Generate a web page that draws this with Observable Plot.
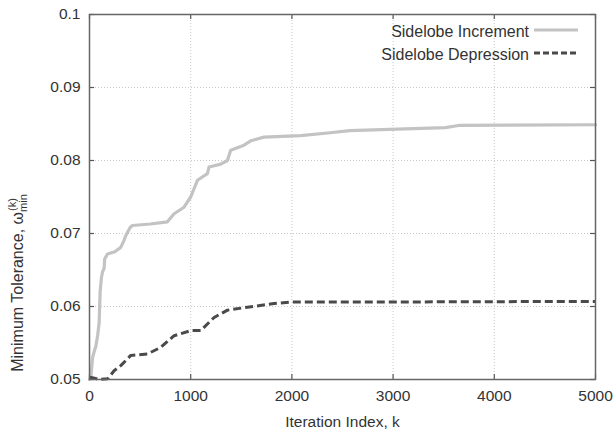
<!DOCTYPE html>
<html><head><meta charset="utf-8">
<script src="https://cdn.jsdelivr.net/npm/d3@7"></script>
<script src="https://cdn.jsdelivr.net/npm/@observablehq/plot@0.6"></script>
<style>body{margin:0;background:#fff} #chart svg{display:block}</style>
</head><body><div id="chart"></div>
<script>
// Data
const incX = [0, 15, 30, 50, 62, 80, 95, 105, 118, 130, 144, 150, 178, 250, 309, 339, 358, 400, 424, 600, 770, 836, 934, 1000, 1067, 1165, 1181, 1297, 1363, 1395, 1527, 1593, 1724, 2087, 2378, 2570, 3518, 3647, 5000];
const incY = [0.0500, 0.0505, 0.0530, 0.0540, 0.0545, 0.0560, 0.0577, 0.0620, 0.0640, 0.0648, 0.0652, 0.0665, 0.0672, 0.0675, 0.0681, 0.0690, 0.0697, 0.0708, 0.0711, 0.0713, 0.0716, 0.0727, 0.0736, 0.0750, 0.0773, 0.0782, 0.0791, 0.0795, 0.0800, 0.0814, 0.0821, 0.0827, 0.0832, 0.0834, 0.0838, 0.0841, 0.0845, 0.0848, 0.0849];
const depX = [0, 40, 100, 180, 243, 309, 408, 573, 704, 836, 1000, 1099, 1231, 1363, 1560, 1823, 1988, 2481, 5000];
const depY = [0.0503, 0.0502, 0.0500, 0.0501, 0.0512, 0.0519, 0.0533, 0.0535, 0.0544, 0.0560, 0.0567, 0.0567, 0.0585, 0.0595, 0.0599, 0.0604, 0.0606, 0.0606, 0.0607];
const xTicks = [0, 1000, 2000, 3000, 4000, 5000];
const xTickLabels = ["0", "1000", "2000", "3000", "4000", "5000"];
const yTicks = [0.05, 0.06, 0.07, 0.08, 0.09, 0.1];
const yTickLabels = ["0.05", "0.06", "0.07", "0.08", "0.09", "0.1"];
const seriesNames = ["Sidelobe Increment", "Sidelobe Depression"];
const xLabel = "Iteration Index, k";
const yLabelMain = "Minimum Tolerance, ω";
const yLabelSub = "min";
const yLabelSup = "(k)";

const W = 615, H = 432, mL = 89, mR = 20, mT = 14, mB = 53;
const innerW = W - mL - mR, innerH = H - mT - mB;
const FONT = "'Liberation Sans', Arial, Helvetica, sans-serif";
const incColor = "#c3c3c3", depColor = "#4a4a4a";

const inc = incX.map((x, i) => ({x, y: incY[i]}));
const dep = depX.map((x, i) => ({x, y: depY[i]}));

const plot = Plot.plot({
  width: W, height: H,
  marginLeft: mL, marginRight: mR, marginTop: mT, marginBottom: mB,
  style: {fontFamily: FONT, fontSize: "15.5px", color: "#333", background: "#fff"},
  x: {domain: [0, 5000], ticks: xTicks, tickFormat: d => xTickLabels[xTicks.indexOf(d)] ?? String(d),
      tickSize: 0, tickPadding: 10, label: xLabel, labelAnchor: "center", labelOffset: 47, labelArrow: "none"},
  y: {domain: [0.05, 0.1], ticks: yTicks, tickFormat: d => yTickLabels[yTicks.indexOf(d)] ?? String(d),
      tickSize: 0, tickPadding: 9, label: null},
  marks: [
    Plot.ruleX(xTicks.slice(1, -1), {stroke: "#c8c8c8", strokeDasharray: "1,2"}),
    Plot.ruleY(yTicks.slice(1, -1), {stroke: "#c8c8c8", strokeDasharray: "1,2"}),
    Plot.tickX(xTicks, {insetTop: innerH - 5, stroke: "#555", strokeWidth: 1.2}),
    Plot.tickX(xTicks, {insetBottom: innerH - 5, stroke: "#555", strokeWidth: 1.2}),
    Plot.tickY(yTicks, {insetRight: innerW - 5, stroke: "#555", strokeWidth: 1.2}),
    Plot.tickY(yTicks, {insetLeft: innerW - 5, stroke: "#555", strokeWidth: 1.2}),
    Plot.line(inc, {x: "x", y: "y", stroke: incColor, strokeWidth: 3.2}),
    Plot.line(dep, {x: "x", y: "y", stroke: depColor, strokeWidth: 3, strokeDasharray: "8,4", strokeLinecap: "butt", strokeLinejoin: "miter"}),
    Plot.frame({stroke: "#666", strokeWidth: 1.5})
  ]
});
document.getElementById("chart").append(plot);

const svg = d3.select(plot);
// Y axis label with stacked sub/superscript
const yl = svg.append("text")
  .attr("transform", `translate(23,${283}) rotate(-90)`)
  .attr("font-family", FONT).attr("font-size", 16).attr("fill", "#333");
yl.append("tspan").text(yLabelMain);
const sub = yl.append("tspan").attr("font-size", 11).attr("dy", 4).text(yLabelSub);
const subLen = sub.node().getComputedTextLength();
yl.append("tspan").attr("font-size", 11).attr("dx", -subLen + 1).attr("dy", -11.5).text(yLabelSup);

// Legend
const lg = svg.append("g").attr("font-family", FONT).attr("font-size", 16).attr("fill", "#333");
[{name: seriesNames[0], y: 31, color: incColor, dash: null, w: 3.2},
 {name: seriesNames[1], y: 54, color: depColor, dash: "6,3", w: 3}].forEach(s => {
  lg.append("text").attr("x", 529).attr("y", s.y).attr("dy", "0.35em").attr("text-anchor", "end").text(s.name);
  const l = lg.append("line").attr("x1", 534).attr("x2", 578).attr("y1", s.y - 1).attr("y2", s.y - 1)
    .attr("stroke", s.color).attr("stroke-width", s.w);
  if (s.dash) l.attr("stroke-dasharray", s.dash);
});
</script>
</body></html>
